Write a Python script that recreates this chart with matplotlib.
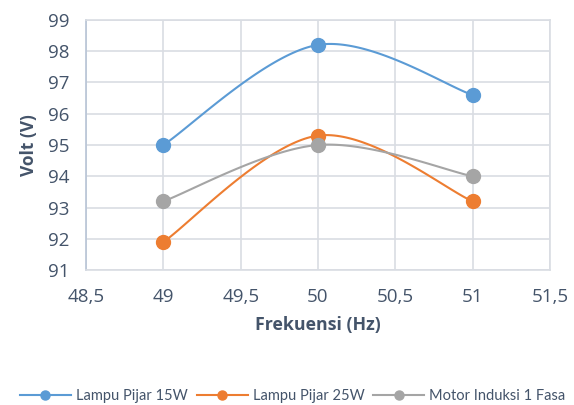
import numpy as np
import matplotlib
matplotlib.use("Agg")
import matplotlib.pyplot as plt
from matplotlib.lines import Line2D

plt.rcParams['font.family'] = ['Open Sans', 'DejaVu Sans']

freq = [49, 50, 51]
lampu_15w = [95.0, 98.2, 96.6]
lampu_25w = [91.9, 95.3, 93.2]
motor_1fasa = [93.2, 95.0, 94.0]
series_names = ["Lampu Pijar 15W", "Lampu Pijar 25W", "Motor Induksi 1 Fasa"]
colors = ["#5B9BD5", "#ED7D31", "#A5A5A5"]
x_ticks = [48.5, 49, 49.5, 50, 50.5, 51, 51.5]
x_ticklabels = ["48,5", "49", "49,5", "50", "50,5", "51", "51,5"]
y_ticks = [91, 92, 93, 94, 95, 96, 97, 98, 99]


def smooth(xs, ys, n=60):
    """Catmull-Rom style cubic Bezier through the points (spreadsheet smoothing)."""
    pts = np.column_stack([xs, ys]).astype(float)
    ext = np.vstack([pts[0], pts, pts[-1]])
    out = []
    t = np.linspace(0, 1, n)[:, None]
    for i in range(len(pts) - 1):
        p0, p1, p2, p3 = ext[i], ext[i + 1], ext[i + 2], ext[i + 3]
        c1 = p1 + (p2 - p0) / 6.0
        c2 = p2 - (p3 - p1) / 6.0
        seg = ((1 - t) ** 3) * p1 + 3 * ((1 - t) ** 2) * t * c1 + 3 * (1 - t) * t ** 2 * c2 + t ** 3 * p2
        out.append(seg if i == 0 else seg[1:])
    seg = np.vstack(out)
    return seg[:, 0], seg[:, 1]


fig = plt.figure(figsize=(5.74, 4.05), dpi=100)
ax = fig.add_axes([0.150, 0.333, 0.808, 0.618])

text_color = "#44546A"
grid_color = "#D9DDE3"

handles = []
for ys, name, c in zip([lampu_15w, lampu_25w, motor_1fasa], series_names, colors):
    sx, sy = smooth(freq, ys)
    ax.plot(sx, sy, color=c, lw=1.5, zorder=3)
    ax.plot(freq, ys, 'o', color=c, ms=10, zorder=4)
    handles.append(Line2D([], [], color=c, lw=1.5, marker='o', ms=6.5, label=name))

ax.set_xlim(48.5, 51.5)
ax.set_ylim(91, 99)
ax.set_xticks(x_ticks)
ax.set_xticklabels(x_ticklabels)
ax.set_yticks(y_ticks)
ax.grid(True, color=grid_color, lw=1.2, zorder=0)
ax.set_axisbelow(True)
for side in ["top", "right", "bottom"]:
    ax.spines[side].set_color(grid_color)
    ax.spines[side].set_linewidth(1.2)
ax.spines["left"].set_color("#B8C4D6")
ax.spines["left"].set_linewidth(1.2)
ax.tick_params(length=0, labelsize=13.5, colors=text_color)
ax.tick_params(axis='x', pad=13)
ax.tick_params(axis='y', pad=12)

ax.set_xlabel("Frekuensi (Hz)", fontsize=12.8, fontweight='bold', color=text_color, labelpad=7)
ax.set_ylabel("Volt (V)", fontsize=12.5, fontweight='bold', color=text_color, labelpad=7)

fig.legend(handles=handles, loc='center', bbox_to_anchor=(0.51, 0.022), ncol=3, frameon=False,
           handlelength=3.5, columnspacing=0.6, handletextpad=0.35,
           labelcolor=text_color, prop={'family': ['Lato', 'DejaVu Sans'], 'size': 10.5})

fig.savefig("out.png", dpi=100)
